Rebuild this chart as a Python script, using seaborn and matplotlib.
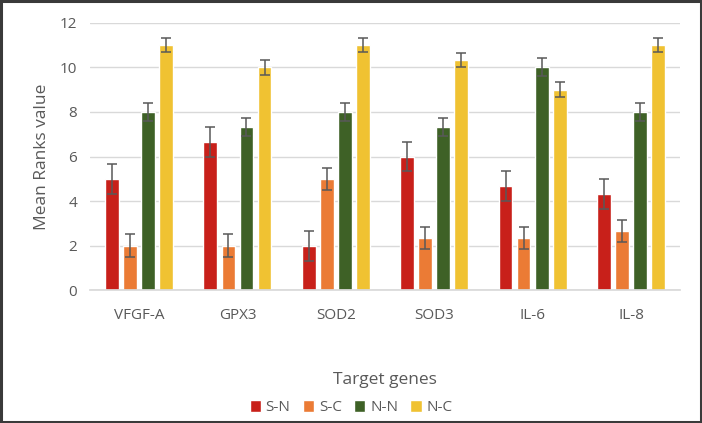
import numpy as np
import pandas as pd
import matplotlib
matplotlib.use("Agg")
import matplotlib.pyplot as plt
import seaborn as sns
from matplotlib.patches import Rectangle

genes = ["VFGF-A", "GPX3", "SOD2", "SOD3", "IL-6", "IL-8"]
groups = ["S-N", "S-C", "N-N", "N-C"]
s_n = [5.0, 6.67, 2.0, 6.0, 4.67, 4.33]
s_c = [2.0, 2.0, 5.0, 2.33, 2.33, 2.67]
n_n = [8.0, 7.33, 8.0, 7.33, 10.0, 8.0]
n_c = [11.0, 10.0, 11.0, 10.33, 9.0, 11.0]
err = {"S-N": 0.67, "S-C": 0.5, "N-N": 0.4, "N-C": 0.33}
colors = ["#C8201A", "#EB7B35", "#3E6126", "#F0C232"]

rows = []
for g, vals in zip(groups, [s_n, s_c, n_n, n_c]):
    for gene, v in zip(genes, vals):
        rows.append({"gene": gene, "group": g, "value": v})
df = pd.DataFrame(rows)

sns.set_theme(style="white")
plt.rcParams["font.family"] = ["Open Sans", "DejaVu Sans"]
txt = "#595959"

fig = plt.figure(figsize=(7.02, 4.23), dpi=100)
ax = fig.add_axes([0.128, 0.314, 0.841, 0.632])
sns.barplot(data=df, x="gene", y="value", hue="group", order=genes,
            hue_order=groups, palette=colors, width=0.735, gap=0.24,
            errorbar=None, ax=ax, legend=True, saturation=1)

# error bars from the drawn bars
for cont, g in zip(ax.containers, groups):
    xs = [p.get_x() + p.get_width() / 2 for p in cont.patches]
    ys = [p.get_height() for p in cont.patches]
    ax.errorbar(xs, ys, yerr=err[g], fmt="none", ecolor="#595959",
                elinewidth=1.1, capsize=3.8, capthick=1.1, zorder=5)

ax.set_ylim(0, 12)
ax.set_xlim(-0.5, 5.5)
ax.set_yticks(range(0, 13, 2))
ax.yaxis.grid(True, color="#D9D9D9", linewidth=1)
ax.set_axisbelow(True)
for s in ["top", "right", "left"]:
    ax.spines[s].set_visible(False)
ax.spines["bottom"].set_color("#D9D9D9")
ax.tick_params(axis="both", length=0, labelsize=11, colors=txt)
ax.tick_params(axis="x", pad=13)
ax.tick_params(axis="y", pad=9)
ax.set_xlabel("Target genes", fontsize=12.5, color=txt, labelpad=35)
ax.set_ylabel("Mean Ranks value", fontsize=12.5, color=txt, labelpad=7)

leg = ax.legend(loc="center", bbox_to_anchor=(0.5, 0.036),
                bbox_transform=fig.transFigure, ncol=4, frameon=False,
                fontsize=11, handlelength=0.75, handleheight=0.75,
                handletextpad=0.3, columnspacing=0.8)
for t in leg.get_texts():
    t.set_color(txt)

fig.patches.append(Rectangle((0.0015, 0.0025), 0.997, 0.995, transform=fig.transFigure,
                             fill=False, edgecolor="#3A3A3A", linewidth=2.2))

fig.savefig("out.png", dpi=100, facecolor="white")
